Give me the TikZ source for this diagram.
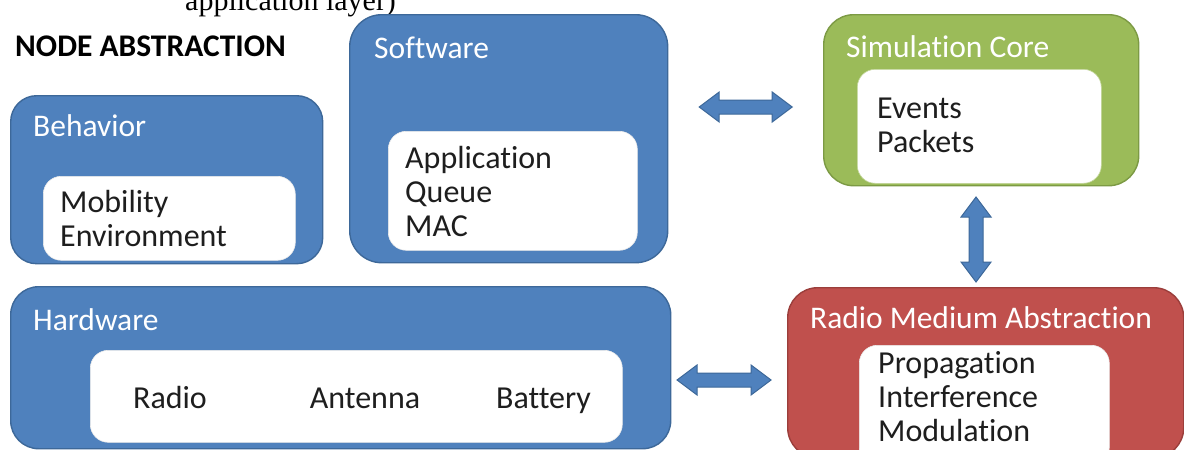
\documentclass[tikz,border=0pt]{standalone}
\usepackage{fontspec}
\setmainfont{Carlito}[Ligatures={NoCommon}]
\newfontfamily\capfont{Liberation Serif}
\usetikzlibrary{calc}
\definecolor{bfill}{HTML}{4F81BD}
\definecolor{bline}{HTML}{3D6899}
\definecolor{gfill}{HTML}{9BBB59}
\definecolor{gline}{HTML}{7C9A44}
\definecolor{rfill}{HTML}{C0504D}
\definecolor{rline}{HTML}{9B3E3B}
\definecolor{ink}{HTML}{1E1E1E}
\tikzset{
  panel/.style 2 args={draw=#2, fill=#1, line width=1.4pt, anchor=north west,
    inner sep=0pt, rounded corners=28pt},
  inbox/.style={fill=white, draw=white!92!black, line width=0.6pt, anchor=north west,
    inner sep=0pt, rounded corners=18pt},
  title/.style={anchor=west, text=white, inner sep=0pt,
    font=\fontsize{31.5}{36}\selectfont},
  items/.style={anchor=west, text=ink, inner sep=0pt, align=left,
    font=\fontsize{32}{34}\selectfont},
  arrowsty/.style={fill=bfill, draw=bline, line width=1pt, line join=miter},
  % two-headed block arrow: #1 = half length, drawn along the x axis
  pics/dbl/.style={code={
    \path[arrowsty] (-#1,0) -- (-#1+20,-15) -- (-#1+20,-7) -- (#1-20,-7)
      -- (#1-20,-15) -- (#1,0) -- (#1-20,15) -- (#1-20,7) -- (-#1+20,7)
      -- (-#1+20,15) -- cycle;
  }},
}
\begin{document}
\begin{tikzpicture}[x=1pt, y=-1pt]
\clip (0,0) rectangle (1184,450);
\fill[white] (0,0) rectangle (1184,450);

% caption fragment along the upper edge
\node[anchor=base west, inner sep=0pt, font=\capfont\fontsize{30}{34}\selectfont]
  (cap) at (185,10) {application layer)};

\node[anchor=west, inner sep=0pt, text=black, font=\bfseries\fontsize{31.5}{36}\selectfont]
  (head) at (15,46) {NODE ABSTRACTION};

% Behavior
\node[panel={bfill}{bline}, minimum width=312, minimum height=168, rounded corners=26pt]
  (behav) at (10,95) {};
\node[inbox, minimum width=252, minimum height=84] (behavin) at (43,176) {};
\node[title] (behavt) at (33,126) {Behavior};
\node[items] (behavi) at (60,218.5) {Mobility\\Environment};

% Software
\node[panel={bfill}{bline}, minimum width=318, minimum height=248, rounded corners=32pt]
  (soft) at (349,14) {};
\node[inbox, minimum width=249, minimum height=119] (softin) at (388,131) {};
\node[title] (softt) at (374,48) {Software};
\node[items] (softi) at (405,191) {Application\\Queue\\MAC};

% Simulation core
\node[panel={gfill}{gline}, minimum width=315, minimum height=171, rounded corners=30pt]
  (sim) at (823,14) {};
\node[inbox, minimum width=244, minimum height=114, draw=gfill!60!white] (simin) at (857,69) {};
\node[title] (simt) at (846,47) {Simulation Core};
\node[items] (simi) at (877,125.5) {Events\\Packets};

% Hardware
\node[panel={bfill}{bline}, minimum width=660, minimum height=162, rounded corners=28pt]
  (hw) at (10,286) {};
\node[inbox, minimum width=532, minimum height=92] (hwin) at (90,350) {};
\node[title] (hwt) at (33,320) {Hardware};
\node[items, anchor=base] (radio) at (170,408) {Radio};
\node[items, anchor=base] (antenna) at (365,408) {Antenna};
\node[items, anchor=base] (battery) at (543.5,408) {Battery};

% Radio medium abstraction
\node[panel={rfill}{rline}, minimum width=396, minimum height=170, rounded corners=30pt]
  (rma) at (787,287) {};
\node[inbox, minimum width=250, minimum height=120] (rmain) at (859,345) {};
\node[title] (rmat) at (810,318) {Radio Medium Abstraction};
\node[items] (rmai) at (878,397) {Propagation\\Interference\\Modulation};

% two-way links between the blocks
\coordinate (l1) at ($(soft.east)!0.5!(sim.west)$);
\pic at (l1 |- 0,107) {dbl=46.5};
\pic[rotate=90] at (976,239.5) {dbl=42.5};
\pic at (724,380) {dbl=47};
\end{tikzpicture}
\end{document}
